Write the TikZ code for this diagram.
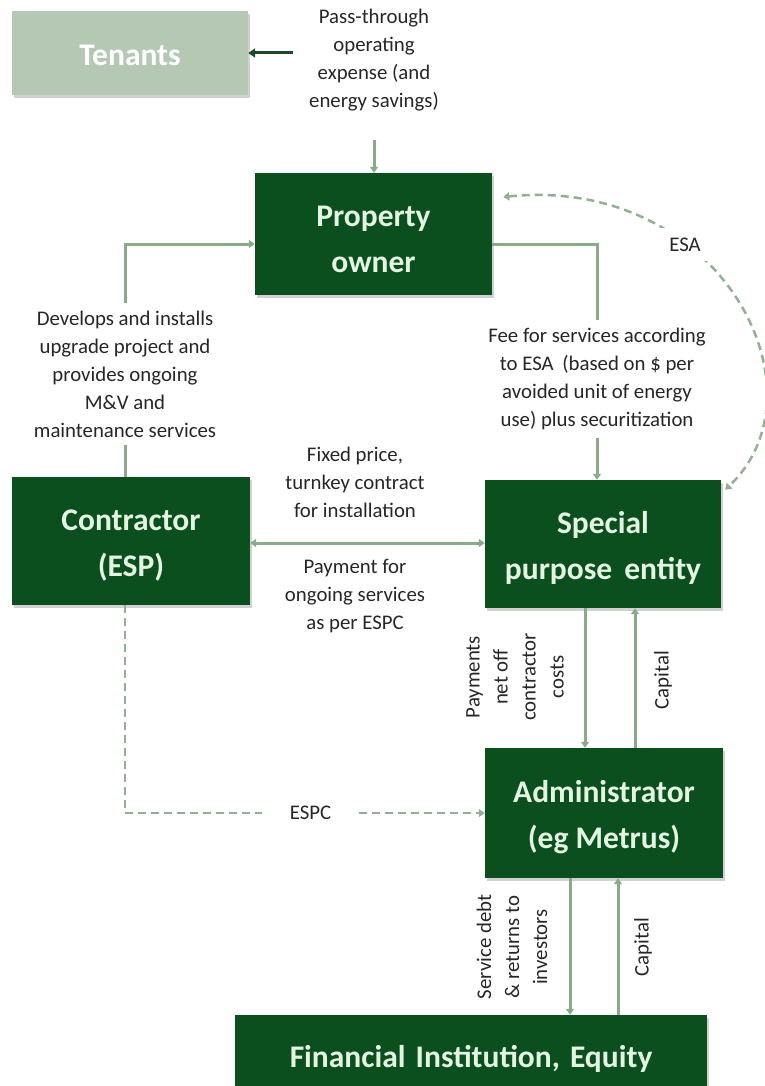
\documentclass[tikz,border=0pt]{standalone}
\usepackage{fontspec}
\setmainfont{Carlito}
\usetikzlibrary{arrows.meta,shadows,calc}
\definecolor{boxgreen}{HTML}{0B4F1E}
\definecolor{boxtext}{HTML}{E4F4E2}
\definecolor{tenantfill}{HTML}{B4C8B4}
\definecolor{flow}{HTML}{8BA98B}
\definecolor{dashflow}{HTML}{95AE95}
\definecolor{darkflow}{HTML}{1D4A2A}
\definecolor{labeltext}{HTML}{262626}
\begin{document}
\begin{tikzpicture}[x=1pt,y=-1pt,
  box/.style={fill=boxgreen, inner sep=0pt,
    drop shadow={shadow xshift=2pt, shadow yshift=-3pt, opacity=0.3, fill=black!60}},
  boxlbl/.style={text=boxtext, align=center, inner sep=0pt,
    font=\fontsize{31.5}{46}\selectfont\bfseries},
  lbl/.style={font=\fontsize{20.8}{28}\selectfont, text=labeltext, align=center, inner sep=2pt},
  flowline/.style={draw=flow, line width=3pt},
  flowarrow/.style={flowline, -{Triangle[length=6pt,width=8pt]}},
  dashline/.style={draw=dashflow, line width=2.5pt, dash pattern=on 8pt off 5pt},
]
\useasboundingbox (0,0) rectangle (765,1086);

% parties
\node[box, fill=tenantfill, minimum width=236, minimum height=84] (ten) at (130,53) {};
\node[box, minimum width=237, minimum height=122] (po) at (373.5,234) {};
\node[box, minimum width=238, minimum height=128] (con) at (131,541) {};
\node[box, minimum width=236, minimum height=128] (spe) at (603,544) {};
\node[box, minimum width=238, minimum height=130] (adm) at (604,813) {};
\node[box, minimum width=472, minimum height=86] (fin) at (471,1058) {};

% party names, set a little below each box centre
\node[boxlbl, text=white] (tentext) at ($(ten.center)+(0,2)$) {Tenants};
\node[boxlbl] (potext) at ($(po.center)+(0,5)$) {Property\\owner};
\node[boxlbl] (context) at ($(con.center)+(0,5)$) {Contractor\\(ESP)};
\node[boxlbl] (spetext) at ($(spe.center)+(0,4)$) {Special\\purpose\hspace{5pt} entity};
\node[boxlbl] (admtext) at ($(adm.center)+(0,4)$) {Administrator\\(eg Metrus)};
\node[boxlbl] (fintext) at ($(fin.center)+(0,1)$) {Financial\hspace{3pt} Institution,\hspace{3pt} Equity};

% free ends and line positions
\coordinate (tenin) at (293,53);
\coordinate (ptin) at (374,140);
\coordinate (feex) at (597,0);
\coordinate (payx) at (585,0);
\coordinate (capx) at (635,0);
\coordinate (debtx) at (570,0);
\coordinate (cap2x) at (618,0);

% solid flows
\draw[draw=darkflow, line width=3pt, -{Triangle[length=7pt,width=9pt]}] (tenin) -- (ten.east);
\draw[flowarrow] (ptin) -- (ptin |- po.north);
\draw[flowarrow] ($(po.east)+(0,10)$) -| (feex |- spe.north);
\draw[flowarrow] ($(con.north)+(-6,0)$) |- ($(po.west)+(0,10)$);
\draw[flowline, {Triangle[length=6pt,width=8pt]}-{Triangle[length=6pt,width=8pt]}] ($(con.east)+(0,2)$) -- ($(con.east -| spe.west)+(0,2)$);
\draw[flowarrow] (payx |- spe.south) -- (payx |- adm.north);
\draw[flowarrow] (capx |- adm.north) -- (capx |- spe.south);
\draw[flowarrow] (debtx |- adm.south) -- (debtx |- fin.north);
\draw[flowarrow] (cap2x |- fin.north) -- (cap2x |- adm.south);

% agreements
\draw[dashline, {Triangle[length=6pt,width=8pt]}-{Triangle[length=6pt,width=8pt]}]
  ($(po.east)+(11,-37)$) .. controls (720,175) and (830,390) .. ($(spe.north east)+(4,10)$)
  node[pos=0.345, lbl, fill=white, inner sep=10pt] (esa) {ESA};
\draw[dashline, -{Triangle[length=6pt,width=8pt]}] ($(con.south)+(-6,0)$) |- (adm.west)
  node[pos=0.758, lbl, fill=white, inner xsep=28pt] (espc) {ESPC};

% flow labels
\node[lbl] (passlbl) at (374,60) {Pass-through\\operating\\expense (and\\energy savings)};
\node[lbl, fill=white, inner ysep=8pt] (feelbl) at (597,379) {Fee for services according\\to ESA\hspace{4pt} (based on \$ per\\avoided unit of energy\\use) plus securitization};
\node[lbl, fill=white, inner ysep=8pt] (devlbl) at (125,374) {Develops and installs\\upgrade project and\\provides ongoing\\M\&V and\\maintenance services};
\node[lbl] (fixlbl) at (355,482) {Fixed price,\\turnkey contract\\for installation};
\node[lbl] (paylbl) at (355,596) {Payment for\\ongoing services\\as per ESPC};
\node[lbl, rotate=90] (netlbl) at (515,677) {Payments\\net off\\contractor\\costs};
\node[lbl, rotate=90] (caplbl) at (663,680) {Capital};
\node[lbl, rotate=90] (debtlbl) at (512,947) {Service debt\\\& returns to\\investors};
\node[lbl, rotate=90] (cap2lbl) at (643,947) {Capital};
\end{tikzpicture}
\end{document}
